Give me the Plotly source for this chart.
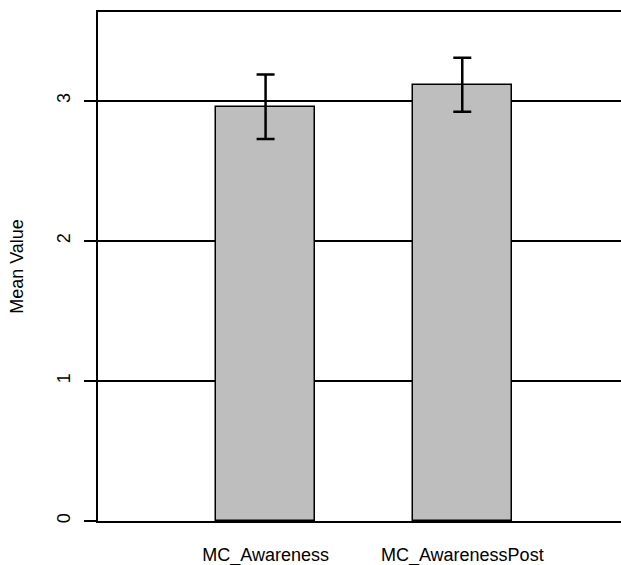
import plotly.graph_objects as go

categories = ["MC_Awareness", "MC_AwarenessPost"]
means = [2.957, 3.114]
errors = [0.230, 0.193]
y_ticks = [0, 1, 2, 3]

font_family = "Liberation Sans, Arial, Helvetica, sans-serif"

fig = go.Figure()
fig.add_trace(go.Bar(
    x=categories,
    y=means,
    width=0.503,
    marker=dict(color="#BEBEBE", line=dict(color="black", width=1.5)),
    error_y=dict(type="data", array=errors, visible=True, color="black",
                 thickness=2.5, width=9),
))

fig.update_layout(
    width=621, height=565,
    margin=dict(l=98, r=0, t=12, b=44),
    paper_bgcolor="white", plot_bgcolor="white",
    font=dict(family=font_family, size=18, color="black"),
    showlegend=False,
    bargap=0,
)
fig.update_xaxes(
    type="category",
    range=[-0.852, 1.807],
    automargin=False,
    showline=True, linecolor="black", linewidth=1.5, mirror=True,
    showgrid=False, ticks="", ticklabelstandoff=17,
    tickfont=dict(size=18),
)
fig.update_yaxes(
    range=[0, 3.634],
    automargin=False,
    tickvals=y_ticks,
    ticktext=[str(v) for v in y_ticks],
    tickangle=-90,
    ticks="outside", ticklen=12, tickwidth=1.5, tickcolor="black",
    ticklabelstandoff=7,
    showline=True, linecolor="black", linewidth=1.5,
    showgrid=True, gridcolor="black", gridwidth=1.5,
    zeroline=False,
    title=dict(text="Mean Value", standoff=26, font=dict(size=18)),
    tickfont=dict(size=18),
)

fig.write_html(
    "out.html",
    config={"displayModeBar": False},
    post_script="document.body.style.margin='0';document.body.style.overflow='hidden';",
)
